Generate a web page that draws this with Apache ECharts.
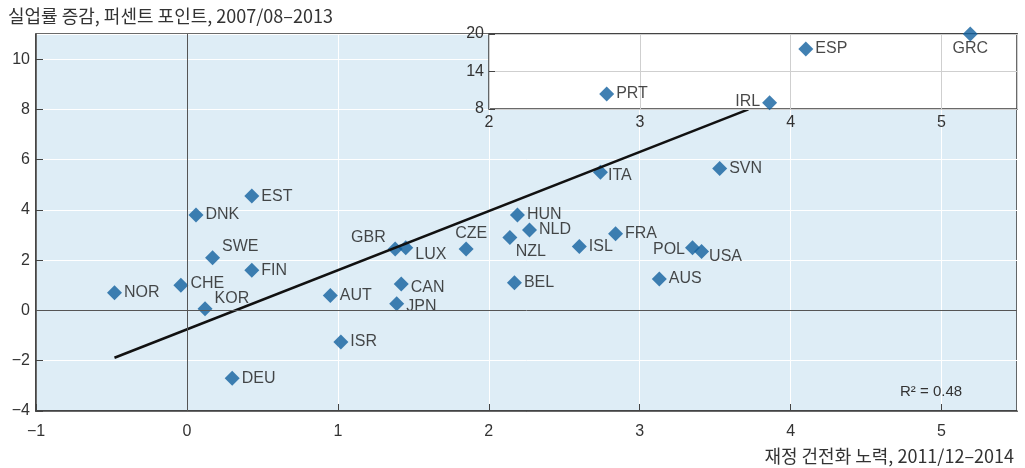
<!DOCTYPE html>
<html>
<head>
<meta charset="utf-8">
<script src="https://cdn.jsdelivr.net/npm/echarts@6/dist/echarts.min.js"></script>
<style>
  html, body { margin: 0; padding: 0; background: #fff; }
  #main { width: 1025px; height: 468px; }
</style>
</head>
<body>
<div id="main"></div>
<script>
// Main panel: fiscal consolidation effort (x) vs change in unemployment (y)
var countries = ['NOR', 'CHE', 'KOR', 'DNK', 'SWE', 'EST', 'FIN', 'DEU', 'AUT', 'ISR',
                 'GBR', 'LUX', 'CAN', 'JPN', 'CZE', 'ITA', 'SVN', 'HUN', 'NLD', 'NZL',
                 'BEL', 'ISL', 'FRA', 'POL', 'USA', 'AUS'];
var fiscalEffort = [-0.48, -0.04, 0.12, 0.06, 0.17, 0.43, 0.43, 0.30, 0.95, 1.02,
                    1.38, 1.45, 1.42, 1.39, 1.85, 2.74, 3.53, 2.19, 2.27, 2.14,
                    2.17, 2.60, 2.84, 3.35, 3.41, 3.13];
var unempChange = [0.70, 1.00, 0.07, 3.80, 2.10, 4.55, 1.60, -2.70, 0.60, -1.25,
                   2.45, 2.50, 1.05, 0.27, 2.45, 5.50, 5.65, 3.80, 3.20, 2.90,
                   1.10, 2.55, 3.05, 2.50, 2.35, 1.25];

// Inset: countries with large unemployment increases
var insetCountries = ['PRT', 'IRL', 'ESP', 'GRC'];
var insetEffort = [2.78, 3.86, 4.10, 5.19];
var insetUnemp = [10.4, 9.0, 17.6, 20.0];

// Fitted regression line end points
var trendX = [-0.48, 3.72];
var trendY = [-1.88, 8.0];

var xTicks = [-1, 0, 1, 2, 3, 4, 5];
var yTicks = [-4, -2, 0, 2, 4, 6, 8, 10];
var insetYTicks = [8, 14, 20];

var labelFont = 'Liberation Sans';
var koFont = '"Noto Sans CJK KR", "Liberation Sans", sans-serif';

// where each country label sits relative to its marker
var labelPlace = {
  KOR: ['right', [0, -10]], SWE: ['right', [0, -11]], GBR: ['left', [0, -11]],
  LUX: ['right', [0, 7]], CAN: ['right', [0, 4]], JPN: ['right', [0, 3]],
  CZE: ['top', [5, 2]], ITA: ['right', [-2, 3]], NZL: ['bottom', [21, -3]],
  POL: ['left', [2, 2]], USA: ['right', [-2, 5]], IRL: ['left', [0, -1]],
  GRC: ['bottom', [0, -3]], CHE: ['right', [0, -2]]
};

function pointItems(names, xs, ys) {
  return names.map(function (n, i) {
    var p = labelPlace[n] || ['right', [0, 0]];
    return {
      name: n,
      value: [xs[i], ys[i]],
      label: { position: p[0], offset: p[1] }
    };
  });
}

function minus(v) { return String(v).replace('-', '\u2212'); }

var frame = { show: true, onZero: false, lineStyle: { color: '#3a3a3a', width: 1.5 } };

var myChart = echarts.init(document.getElementById('main'));

var option = {
  animation: false,
  title: [
    {
      text: '실업률 증감, 퍼센트 포인트, 2007/08\u20132013',
      left: 3, top: 2,
      textStyle: { fontFamily: koFont, fontSize: 18, fontWeight: 'normal', color: '#333' }
    },
    {
      text: '재정 건전화 노력, 2011/12\u20132014',
      right: 6, top: 442,
      textStyle: { fontFamily: koFont, fontSize: 18, fontWeight: 'normal', color: '#333' }
    },
    {
      text: 'R\u00b2 = 0.48',
      left: 895, top: 379,
      textStyle: { fontFamily: labelFont, fontSize: 15, fontWeight: 'normal', color: '#333' }
    }
  ],
  grid: [
    {
      left: 36, top: 34, right: 8, bottom: 57,
      show: true, backgroundColor: '#deedf6', borderColor: '#3a3a3a', borderWidth: 1.5
    },
    {
      left: 489, top: 34, right: 8, height: 75, z: 5,
      show: true, backgroundColor: '#ffffff', borderColor: '#3a3a3a', borderWidth: 1.5
    }
  ],
  xAxis: [
    {
      type: 'value', gridIndex: 0,
      min: xTicks[0], max: 5.5, interval: 1,
      axisLine: frame,
      axisTick: { show: true, inside: true, length: 7, lineStyle: { color: '#444' } },
      axisLabel: {
        margin: 13, color: '#333', fontFamily: labelFont, fontSize: 16,
        showMaxLabel: false, formatter: minus
      },
      splitLine: { show: true, lineStyle: { color: '#ffffff', width: 1 } }
    },
    {
      type: 'value', gridIndex: 1, z: 6,
      min: 2, max: 5.5, interval: 1,
      axisLine: { show: false },
      axisTick: { show: false },
      axisLabel: {
        margin: 6, color: '#333', fontFamily: labelFont, fontSize: 16,
        showMaxLabel: false
      },
      splitLine: { show: true, lineStyle: { color: '#cfcfcf', width: 1 } }
    }
  ],
  yAxis: [
    {
      type: 'value', gridIndex: 0,
      min: yTicks[0], max: 11, interval: 2,
      axisLine: frame,
      axisTick: { show: true, inside: true, length: 7, lineStyle: { color: '#444' } },
      axisLabel: {
        margin: 6, color: '#333', fontFamily: labelFont, fontSize: 16,
        showMaxLabel: false, formatter: minus
      },
      splitLine: { show: true, lineStyle: { color: '#ffffff', width: 1 } }
    },
    {
      type: 'value', gridIndex: 1, z: 6,
      min: insetYTicks[0], max: insetYTicks[2], interval: 6,
      axisLine: { show: false },
      axisTick: { show: true, inside: true, length: 6, lineStyle: { color: '#444' } },
      axisLabel: {
        margin: 5, color: '#333', fontFamily: labelFont, fontSize: 16
      },
      splitLine: { show: true, lineStyle: { color: '#cfcfcf', width: 1 } }
    }
  ],
  series: [
    {
      name: 'main',
      type: 'scatter',
      xAxisIndex: 0, yAxisIndex: 0,
      symbol: 'diamond', symbolSize: 15,
      itemStyle: { color: '#11609f' },
      label: {
        show: true, formatter: '{b}', distance: 2,
        color: '#1a1a1a', fontFamily: labelFont, fontSize: 16
      },
      data: pointItems(countries, fiscalEffort, unempChange),
      markLine: {
        silent: true, symbol: 'none', animation: false,
        label: { show: false },
        lineStyle: { color: '#555', width: 1, type: 'solid' },
        data: [{ xAxis: 0 }, { yAxis: 0 }]
      },
      z: 3
    },
    {
      name: 'trend',
      type: 'line',
      xAxisIndex: 0, yAxisIndex: 0,
      showSymbol: false, symbol: 'none',
      lineStyle: { color: '#111', width: 2.5 },
      data: trendX.map(function (x, i) { return [x, trendY[i]]; }),
      z: 4
    },
    {
      name: 'inset',
      type: 'scatter',
      xAxisIndex: 1, yAxisIndex: 1,
      symbol: 'diamond', symbolSize: 15,
      itemStyle: { color: '#11609f' },
      label: {
        show: true, formatter: '{b}', distance: 2,
        color: '#1a1a1a', fontFamily: labelFont, fontSize: 16
      },
      data: pointItems(insetCountries, insetEffort, insetUnemp),
      clip: false,
      z: 10
    }
  ]
};

myChart.setOption(option);
</script>
</body>
</html>
